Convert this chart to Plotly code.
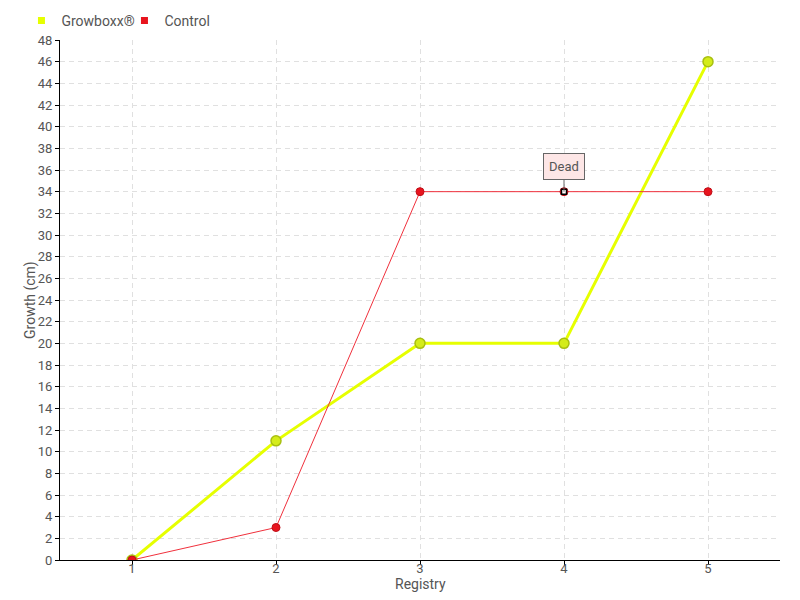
import plotly.graph_objects as go

registry = [1, 2, 3, 4, 5]
growboxx = [0, 11, 20, 20, 46]
control = [0, 3, 34, 34, 34]
dead_index = 3
y_ticks = list(range(0, 49, 2))
x_title = "Registry"
y_title = "Growth (cm)"

FONT = "Roboto, sans-serif"
TXT = "#555555"

fig = go.Figure()

fig.add_trace(go.Scatter(
    x=registry, y=growboxx, mode="lines+markers", showlegend=False,
    line=dict(color="#e6ff00", width=3),
    marker=dict(size=10, color="#d4ec1a", line=dict(color="#a8bf10", width=1.5)),
))
fig.add_trace(go.Scatter(
    x=registry, y=control, mode="lines+markers", showlegend=False,
    line=dict(color="#f0303c", width=1),
    marker=dict(size=8, color="#e8141e", line=dict(color="#c01018", width=1)),
))
fig.add_trace(go.Scatter(
    x=[registry[dead_index]], y=[control[dead_index]], mode="markers", showlegend=False,
    marker=dict(size=5, symbol="square", color="white", line=dict(color="black", width=1.5)),
))
# legend entries
fig.add_trace(go.Scatter(x=[None], y=[None], mode="markers", name="Growboxx®",
                         marker=dict(symbol="square", size=7, color="#e6ff00")))
fig.add_trace(go.Scatter(x=[None], y=[None], mode="markers", name="Control",
                         marker=dict(symbol="square", size=7, color="#e8141e")))

fig.add_annotation(
    x=registry[dead_index], y=control[dead_index], text="Dead",
    showarrow=True, arrowhead=0, arrowwidth=1, arrowcolor="#666",
    ax=0, ay=-25, bgcolor="#fde6e6", bordercolor="#666", borderwidth=1, borderpad=5,
    font=dict(family=FONT, size=13, color=TXT),
)
# axis titles
fig.add_annotation(text=x_title, xref="paper", yref="paper", x=0.5, y=0,
                   xanchor="center", yanchor="middle", yshift=-24, showarrow=False,
                   font=dict(family=FONT, size=14, color=TXT))
fig.add_annotation(text=y_title, xref="paper", yref="paper", x=0, y=0.5,
                   xanchor="center", yanchor="middle", xshift=-30, textangle=-90,
                   showarrow=False, font=dict(family=FONT, size=14, color=TXT))

GRID = dict(showgrid=True, gridcolor="#e0e0e0", griddash="5px,4px", zeroline=False,
            showline=True, linecolor="black", linewidth=1,
            ticks="outside", ticklen=4, tickcolor="black", automargin=False)

fig.update_layout(
    width=792, height=592,
    margin=dict(l=52, r=20, t=32, b=40, autoexpand=False),
    paper_bgcolor="white", plot_bgcolor="white",
    font=dict(family=FONT, size=13, color=TXT),
    legend=dict(orientation="h", xref="container", yref="container",
                x=0.017, y=0.978, xanchor="left", yanchor="middle",
                font=dict(size=14, color=TXT), itemwidth=30, tracegroupgap=0,
                entrywidth=58, bgcolor="rgba(0,0,0,0)"),
    xaxis=dict(range=[0.5, 5.5], tickvals=registry, ticklabelstandoff=-8, **GRID),
    yaxis=dict(range=[0, 48], tickvals=y_ticks, **GRID),
)

fig.write_html("out.html")
